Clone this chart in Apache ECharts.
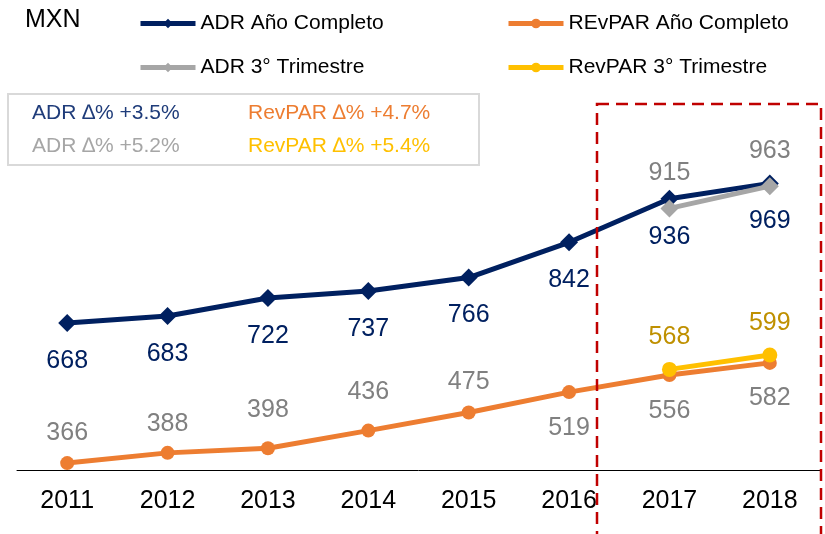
<!DOCTYPE html>
<html>
<head>
<meta charset="utf-8">
<script src="https://cdn.jsdelivr.net/npm/echarts@6/dist/echarts.min.js"></script>
<style>
  html, body { margin: 0; padding: 0; background: #fff; }
  #chart { width: 825px; height: 534px; }
</style>
</head>
<body>
<div id="chart"></div>
<script>
// datos
const years = ['2011', '2012', '2013', '2014', '2015', '2016', '2017', '2018'];
const adrAnual = [668, 683, 722, 737, 766, 842, 936, 969];
const revparAnual = [366, 388, 398, 436, 475, 519, 556, 582];
const adrTrim = [null, null, null, null, null, null, 915, 963];
const revparTrim = [null, null, null, null, null, null, 568, 599];
const notas = ['ADR ∆% +3.5%', 'RevPAR ∆% +4.7%', 'ADR ∆% +5.2%', 'RevPAR ∆% +5.4%'];

const font = 'Liberation Sans, Arial, sans-serif';
const navy = '#002060', orange = '#ed7d31', grey = '#a6a6a6', yellow = '#ffc000';

// desplazamiento vertical de etiquetas de RevPAR
const revparDy = [-30, -29, -38, -38, -30, 36, 36, 35];

const chart = echarts.init(document.getElementById('chart'));

function lbl(color, dy) {
  return { show: true, position: 'inside', offset: [0, dy], color: color, fontSize: 25, fontFamily: font };
}

function legendAt(name, left, top) {
  return {
    data: [name], left: left, top: top, padding: 0, itemWidth: 55, itemHeight: 12, itemGap: 0,
    lineStyle: { width: 5 },
    textStyle: { fontSize: 21, fontFamily: font, color: '#000' }, selectedMode: false
  };
}

const option = {
  animation: false,
  legend: [
    legendAt('ADR Año Completo', 138, 13),
    legendAt('REvPAR Año Completo', 506, 13),
    legendAt('ADR 3° Trimestre', 138, 57),
    legendAt('RevPAR 3° Trimestre', 506, 57)
  ],
  grid: { left: 17, right: 5, top: 169, bottom: 63.5 },
  xAxis: {
    type: 'category',
    data: years,
    boundaryGap: true,
    axisTick: { show: false },
    axisLine: { lineStyle: { color: '#000', width: 1 } },
    axisLabel: { color: '#000', fontSize: 25, fontFamily: font, margin: 18 }
  },
  yAxis: { type: 'value', min: 350, max: 1000, show: false, splitLine: { show: false } },
  graphic: [
    { type: 'text', left: 25, top: 8, style: { text: 'MXN', fontSize: 25, fontFamily: font, fill: '#000' } },
    { type: 'rect', shape: { x: 8, y: 94, width: 471, height: 71 },
      style: { fill: 'none', stroke: '#d9d9d9', lineWidth: 2 } },
    { type: 'text', left: 32, top: 103, style: { text: notas[0], fontSize: 21, fontFamily: font, fill: '#1f3c7a' } },
    { type: 'text', left: 248, top: 103, style: { text: notas[1], fontSize: 21, fontFamily: font, fill: orange } },
    { type: 'text', left: 32, top: 136, style: { text: notas[2], fontSize: 21, fontFamily: font, fill: grey } },
    { type: 'text', left: 248, top: 136, style: { text: notas[3], fontSize: 21, fontFamily: font, fill: yellow } },
    { type: 'rect', z: 100, shape: { x: 597, y: 104, width: 224, height: 480 },
      style: { fill: 'none', stroke: '#c00000', lineWidth: 2.5, lineDash: [12, 7] } }
  ],
  series: [
    {
      name: 'ADR Año Completo', type: 'line', data: adrAnual,
      symbol: 'diamond', symbolSize: 18,
      lineStyle: { color: navy, width: 5 }, itemStyle: { color: navy },
      label: lbl(navy, 38)
    },
    {
      name: 'REvPAR Año Completo', type: 'line',
      data: revparAnual.map((v, i) => ({ value: v, label: lbl('#808080', revparDy[i]) })),
      symbol: 'circle', symbolSize: 14,
      lineStyle: { color: orange, width: 5 }, itemStyle: { color: orange }
    },
    {
      name: 'ADR 3° Trimestre', type: 'line', data: adrTrim,
      symbol: 'diamond', symbolSize: 18,
      lineStyle: { color: grey, width: 5 }, itemStyle: { color: grey },
      label: lbl('#808080', -35)
    },
    {
      name: 'RevPAR 3° Trimestre', type: 'line', data: revparTrim,
      symbol: 'circle', symbolSize: 15,
      lineStyle: { color: yellow, width: 5 }, itemStyle: { color: yellow },
      label: lbl('#bf9000', -32)
    }
  ]
};

chart.setOption(option);
</script>
</body>
</html>
